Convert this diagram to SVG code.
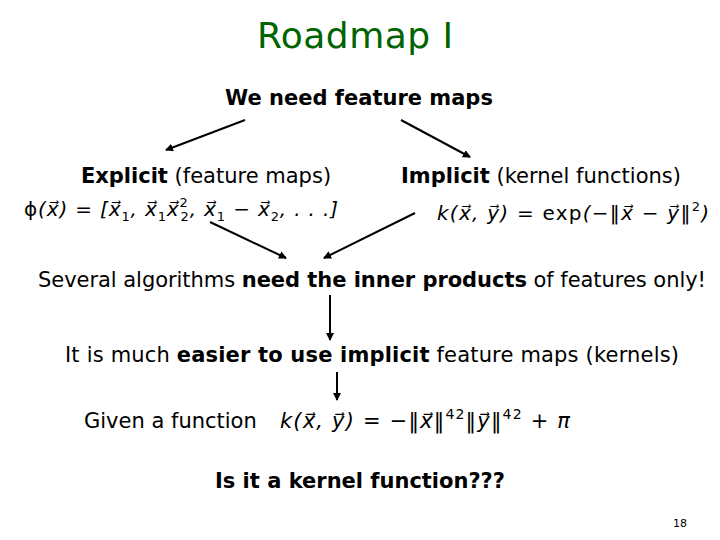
<svg xmlns="http://www.w3.org/2000/svg" width="720" height="540" viewBox="0 0 720 540">
<style>
.t{font-family:"DejaVu Sans",sans-serif;fill:#000}
.m{font-family:"DejaVu Sans",sans-serif;font-style:italic;fill:#000}
.r{font-style:normal}
.c{stroke:#000;stroke-width:2;fill:none;marker-end:url(#a)}
</style>
<defs><marker id="a" markerWidth="8" markerHeight="8" refX="7" refY="4" orient="auto" markerUnits="userSpaceOnUse"><path d="M0,0L8,4L0,8z" fill="#000"/></marker></defs>
<rect width="720" height="540" fill="#fff"/>
<g id="title"><text x="355" y="48" text-anchor="middle" font-family="DejaVu Sans,sans-serif" font-size="36" fill="#006400" textLength="196">Roadmap I</text></g>
<g id="n1"><text class="t" x="359" y="105" text-anchor="middle" font-size="21" font-weight="bold">We need feature maps</text></g>
<g id="n2"><text class="t" x="206" y="183" text-anchor="middle" font-size="21"><tspan font-weight="bold">Explicit</tspan> (feature maps)</text>
<text class="m" x="24" y="216" font-size="20" textLength="314"><tspan class="r">ϕ</tspan>(x⃗) <tspan class="r">=</tspan> [x⃗<tspan font-size="13" dy="5" class="r">1</tspan><tspan dy="-5">, x⃗</tspan><tspan font-size="13" dy="5" class="r">1</tspan><tspan dy="-5">x⃗</tspan><tspan font-size="13" dy="-9" class="r">2</tspan><tspan font-size="13" dx="-8" dy="14" class="r">2</tspan><tspan dy="-5">, x⃗</tspan><tspan font-size="13" dy="5" class="r">1</tspan><tspan dy="-5" class="r"> − </tspan>x⃗<tspan font-size="13" dy="5" class="r">2</tspan><tspan dy="-5">, . . .]</tspan></text></g>
<g id="n3"><text class="t" x="541" y="183" text-anchor="middle" font-size="21"><tspan font-weight="bold">Implicit</tspan> (kernel functions)</text>
<text class="m" x="437" y="220" font-size="20" textLength="272">k(x⃗, y⃗) <tspan class="r">=</tspan> <tspan class="r">exp</tspan>(<tspan class="r">−‖</tspan>x⃗ <tspan class="r">−</tspan> y⃗<tspan class="r">‖</tspan><tspan font-size="13" dy="-9" class="r">2</tspan><tspan dy="9">)</tspan></text></g>
<g id="n4"><text class="t" x="372" y="287" text-anchor="middle" font-size="21" textLength="668">Several algorithms <tspan font-weight="bold">need the inner products</tspan> of features only!</text></g>
<g id="n5"><text class="t" x="372" y="362" text-anchor="middle" font-size="21" textLength="614">It is much <tspan font-weight="bold">easier to use implicit</tspan> feature maps (kernels)</text></g>
<g id="n6"><text class="t" x="84" y="428" font-size="21">Given a function</text>
<text class="m" x="280" y="428" font-size="21" textLength="290">k(x⃗, y⃗) <tspan class="r">= −‖</tspan>x⃗<tspan class="r">‖</tspan><tspan class="r" font-size="14" dy="-9">42</tspan><tspan class="r" dy="9">‖</tspan>y⃗<tspan class="r">‖</tspan><tspan class="r" font-size="14" dy="-9">42</tspan><tspan class="r" dy="9"> + </tspan>π</text></g>
<g id="n7"><text class="t" x="360" y="488" text-anchor="middle" font-size="21" font-weight="bold">Is it a kernel function???</text></g>
<g id="page"><text class="t" x="680" y="527" text-anchor="middle" font-size="11">18</text></g>
<g id="connectors">
<line class="c" x1="245" y1="120" x2="166" y2="150"/>
<line class="c" x1="401" y1="120" x2="470" y2="157"/>
<line class="c" x1="210" y1="222" x2="286" y2="258"/>
<line class="c" x1="415" y1="213" x2="324" y2="258"/>
<line class="c" x1="330" y1="295" x2="330" y2="340"/>
<line class="c" x1="337" y1="372" x2="337" y2="400"/>
</g>
</svg>
